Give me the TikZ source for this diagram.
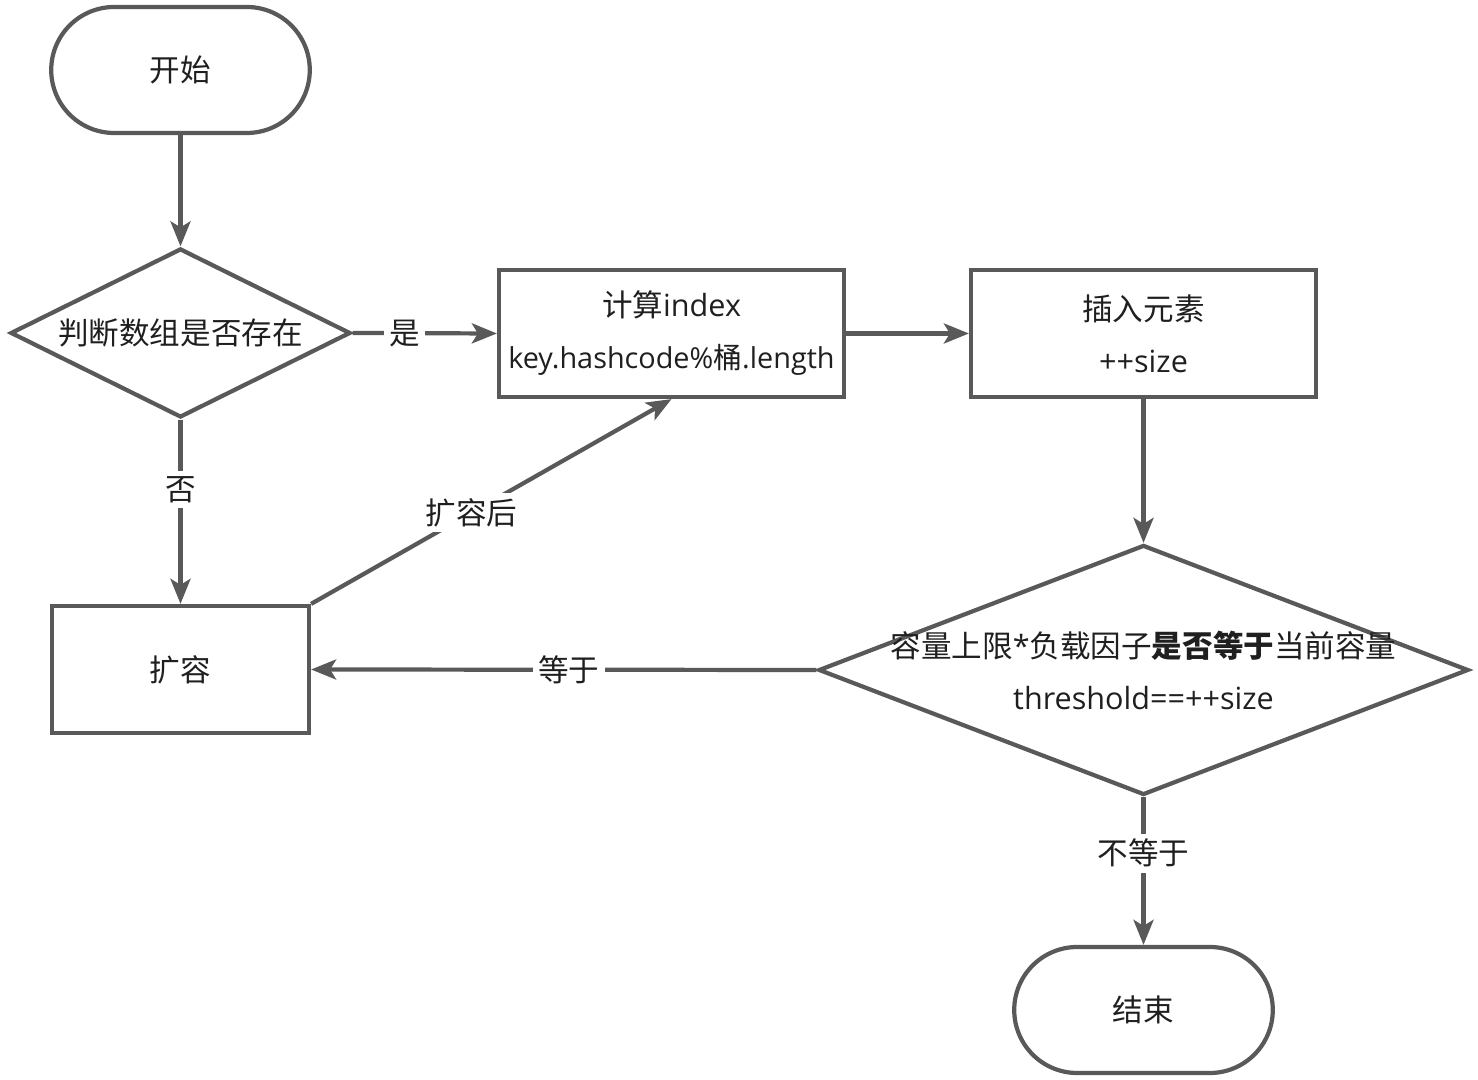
\documentclass[tikz,border=0pt]{standalone}
\usepackage{fontspec}
\setmainfont{Open Sans}
\newfontfamily\cjk{Noto Sans CJK SC}
\usetikzlibrary{shapes.geometric, shapes.misc, arrows.meta}
\definecolor{linea}{HTML}{595959}
\definecolor{texto}{HTML}{1F1F1F}

\begin{document}
\begin{tikzpicture}[color=linea, line width=1.2pt,
    every node/.style={text=texto, font=\fontsize{8.7}{14.8}\selectfont},
    terminal/.style={rounded rectangle, draw, minimum width=2.82cm, minimum height=1.26cm},
    proceso/.style={rectangle, draw, minimum width=3.45cm, minimum height=1.27cm, align=center},
    decision/.style={diamond, draw, aspect=2, inner sep=0pt},
    flecha/.style={-{Stealth[length=2.5mm, width=2mm, inset=0.6mm]}},
    etiqueta/.style={fill=white, inner sep=1.5pt}]

  % Inicio y primera decision
  \node[terminal] (inicio) at (1.805,10.10) {\cjk 开始};
  \node[decision, minimum width=3.4cm, minimum height=1.69cm] (existe) at (1.805,7.47) {\cjk 判断数组是否存在};

  % Cajas de proceso
  \node[proceso, inner xsep=0pt] (indice) at (6.715,7.465) {{\cjk 计算}index\\{\fontsize{8.2}{14.8}\selectfont key.hashcode\%{\cjk 桶}.length}};
  \node[proceso] (insertar) at (11.435,7.465) {{\cjk 插入元素}\\++size};
  \node[proceso, minimum width=2.57cm] (expandir) at (1.805,4.105) {\cjk 扩容};

  % Segunda decision
  \node[decision, minimum width=6.5cm, minimum height=2.5cm,
        label={[align=center]center:{\cjk 容量上限}*{\cjk 负载因子{\bfseries 是否等于}当前容量}\\threshold==++size}] (umbral) at (11.435,4.10) {};

  % Fin
  \node[terminal] (fin) at (11.435,0.70) {\cjk 结束};

  % Flechas
  \draw[flecha] (inicio.south) -- (existe.north);
  \draw[flecha] (existe.east) -- node[etiqueta, pos=0.36] {\cjk 是} (indice.west);
  \draw[flecha] (existe.south) -- node[etiqueta, pos=0.38] {\cjk 否} (expandir.north);
  \draw[flecha] (indice.east) -- (insertar.west);
  \draw[flecha] (insertar.south) -- (umbral.north);
  \draw[flecha] (umbral.west) -- node[etiqueta, pos=0.49] {\cjk 等于} (expandir.east);
  \draw[flecha] (expandir.north east) -- node[etiqueta, pos=0.445] {\cjk 扩容后} (indice.south);
  \draw[flecha] (umbral.south) -- node[etiqueta, pos=0.38] {\cjk 不等于} (fin.north);

  \useasboundingbox (0,0) rectangle (14.78,10.80);
\end{tikzpicture}
\end{document}
